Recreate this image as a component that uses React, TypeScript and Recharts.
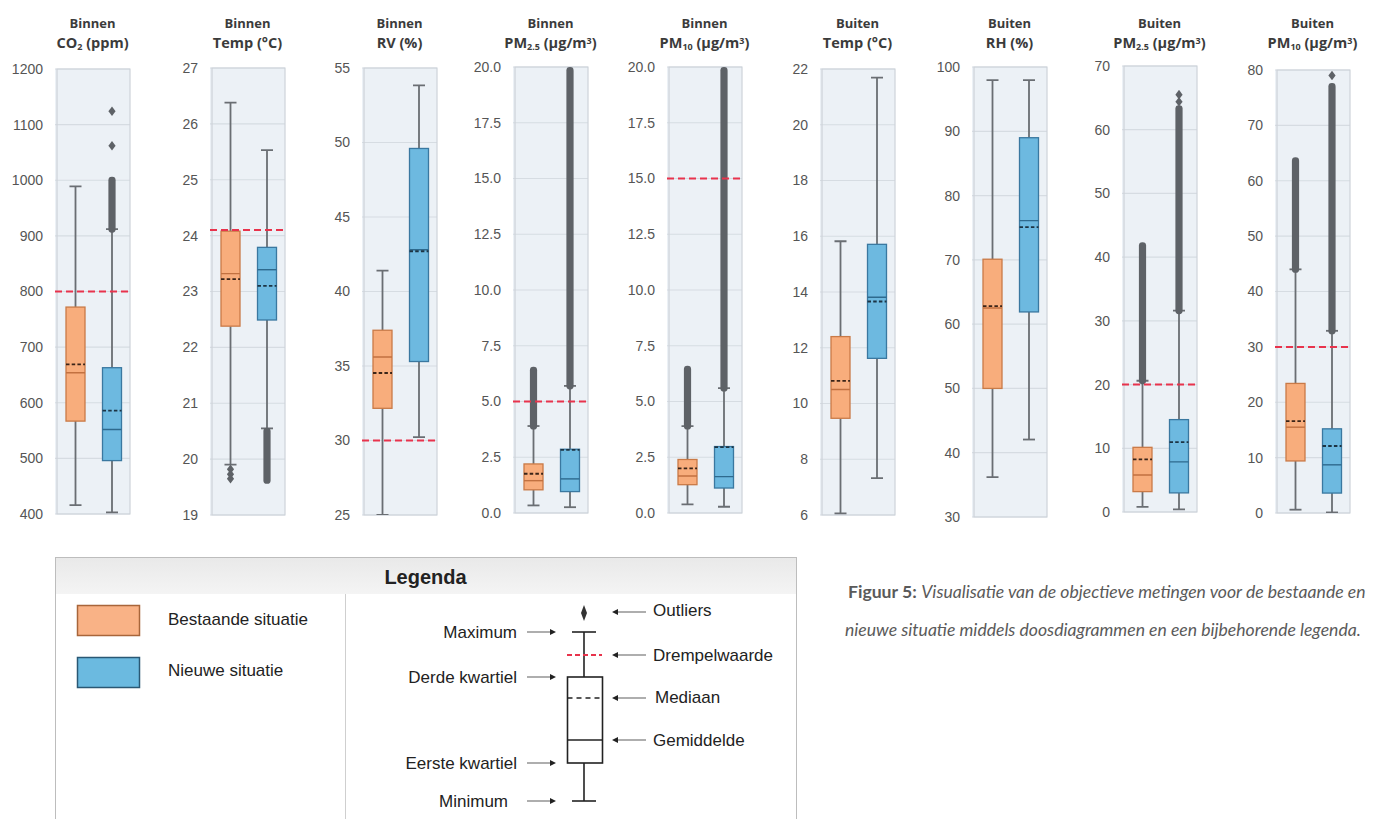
import React from 'react';
import { ComposedChart, Bar, XAxis, YAxis, CartesianGrid, ReferenceLine, ReferenceArea } from 'recharts';

// ---------- DATA ----------
const situaties = ['Bestaande situatie', 'Nieuwe situatie'];

type Stat = {
  situatie: string;
  min: number; q1: number; median: number; mean: number; q3: number; max: number;
  bandLo?: number; bandHi?: number; outliers: number[];
};

const co2Stats: Stat[] = [
  { situatie: situaties[0], min: 416, q1: 567, median: 669, mean: 654, q3: 772, max: 989, outliers: [] },
  { situatie: situaties[1], min: 403, q1: 496, median: 586, mean: 552, q3: 663, max: 912, bandLo: 912, bandHi: 1000, outliers: [1062, 1124] },
];
const tempInStats: Stat[] = [
  { situatie: situaties[0], min: 19.9, q1: 22.38, median: 23.22, mean: 23.32, q3: 24.08, max: 26.38, outliers: [19.82, 19.73, 19.65] },
  { situatie: situaties[1], min: 20.55, q1: 22.49, median: 23.1, mean: 23.39, q3: 23.79, max: 25.53, bandLo: 19.62, bandHi: 20.5, outliers: [] },
];
const rvStats: Stat[] = [
  { situatie: situaties[0], min: 25.0, q1: 32.16, median: 34.53, mean: 35.6, q3: 37.4, max: 41.4, outliers: [] },
  { situatie: situaties[1], min: 30.23, q1: 35.3, median: 42.7, mean: 42.8, q3: 49.6, max: 53.84, outliers: [] },
];
const pm25InStats: Stat[] = [
  { situatie: situaties[0], min: 0.34, q1: 1.04, median: 1.76, mean: 1.45, q3: 2.2, max: 3.9, bandLo: 3.9, bandHi: 6.4, outliers: [] },
  { situatie: situaties[1], min: 0.26, q1: 0.96, median: 2.83, mean: 1.53, q3: 2.86, max: 5.7, bandLo: 5.7, bandHi: 20.5, outliers: [] },
];
const pm10InStats: Stat[] = [
  { situatie: situaties[0], min: 0.39, q1: 1.27, median: 2.0, mean: 1.66, q3: 2.4, max: 3.9, bandLo: 3.9, bandHi: 6.45, outliers: [] },
  { situatie: situaties[1], min: 0.28, q1: 1.12, median: 2.95, mean: 1.63, q3: 2.98, max: 5.6, bandLo: 5.6, bandHi: 20.5, outliers: [] },
];
const tempOutStats: Stat[] = [
  { situatie: situaties[0], min: 6.06, q1: 9.47, median: 10.81, mean: 10.5, q3: 12.4, max: 15.82, outliers: [] },
  { situatie: situaties[1], min: 7.32, q1: 11.62, median: 13.66, mean: 13.81, q3: 15.71, max: 21.69, outliers: [] },
];
const rhStats: Stat[] = [
  { situatie: situaties[0], min: 36.2, q1: 50.0, median: 62.8, mean: 62.5, q3: 70.1, max: 97.95, outliers: [] },
  { situatie: situaties[1], min: 42.05, q1: 61.9, median: 75.1, mean: 76.1, q3: 89.0, max: 97.95, outliers: [] },
];
const pm25OutStats: Stat[] = [
  { situatie: situaties[0], min: 0.8, q1: 3.2, median: 8.25, mean: 5.8, q3: 10.15, max: 20.6, bandLo: 20.6, bandHi: 41.8, outliers: [] },
  { situatie: situaties[1], min: 0.4, q1: 3.0, median: 10.96, mean: 7.86, q3: 14.5, max: 31.6, bandLo: 31.6, bandHi: 63.3, outliers: [64.4, 65.5] },
];
const pm10OutStats: Stat[] = [
  { situatie: situaties[0], min: 0.6, q1: 9.4, median: 16.6, mean: 15.5, q3: 23.4, max: 44.0, bandLo: 44.0, bandHi: 63.6, outliers: [] },
  { situatie: situaties[1], min: 0.1, q1: 3.6, median: 12.1, mean: 8.7, q3: 15.2, max: 32.9, bandLo: 32.9, bandHi: 77.0, outliers: [79.0] },
];

const co2Ticks = [400, 500, 600, 700, 800, 900, 1000, 1100, 1200];
const tempInTicks = [19, 20, 21, 22, 23, 24, 25, 26, 27];
const rvTicks = [25, 30, 35, 40, 45, 50, 55];
const pmInTicks = [0, 2.5, 5, 7.5, 10, 12.5, 15, 17.5, 20];
const tempOutTicks = [6, 8, 10, 12, 14, 16, 18, 20, 22];
const rhTicks = [30, 40, 50, 60, 70, 80, 90, 100];
const pm25OutTicks = [0, 10, 20, 30, 40, 50, 60, 70];
const pm10OutTicks = [0, 10, 20, 30, 40, 50, 60, 70, 80];

const thresholds: (number | null)[] = [800, 24.1, 30, 5, 15, null, null, 20, 30];
const titleTop = ['Binnen', 'Binnen', 'Binnen', 'Binnen', 'Binnen', 'Buiten', 'Buiten', 'Buiten', 'Buiten'];

const sub = (t: string) => <sub style={{ fontSize: '0.62em', lineHeight: 0, verticalAlign: '-0.25em' }}>{t}</sub>;
const sup = (t: string) => <sup style={{ fontSize: '0.62em', lineHeight: 0, verticalAlign: '0.5em' }}>{t}</sup>;
const titleMain: React.ReactNode[] = [
  <>CO{sub('2')} (ppm)</>,
  <>Temp (°C)</>,
  <>RV (%)</>,
  <>PM{sub('2.5')} (µg/m{sup('3')})</>,
  <>PM{sub('10')} (µg/m{sup('3')})</>,
  <>Temp (°C)</>,
  <>RH (%)</>,
  <>PM{sub('2.5')} (µg/m{sup('3')})</>,
  <>PM{sub('10')} (µg/m{sup('3')})</>,
];

const panelData: Stat[][] = [co2Stats, tempInStats, rvStats, pm25InStats, pm10InStats, tempOutStats, rhStats, pm25OutStats, pm10OutStats];
const panelTicks: number[][] = [co2Ticks, tempInTicks, rvTicks, pmInTicks, pmInTicks, tempOutTicks, rhTicks, pm25OutTicks, pm10OutTicks];
const oneDecimal = [false, false, false, true, true, false, false, false, false];

// ---------- LAYOUT / STYLE ----------
const panelLeft = [55, 210, 362, 513, 667, 820, 972, 1122, 1275];
const panelTop = [69, 68, 68, 67, 67, 69, 67, 66, 70];
const panelBottom = [514, 515, 515, 513, 513, 515, 517, 512, 513];
const PANEL_W = 75;
const AXIS_W = 45;
const CHART_H = 540;

const boxFill = ['#F8AD7C', '#6DB9E0'];
const boxEdge = ['#C97A47', '#3A78A0'];
const meanColor = ['#C27140', '#2E6A8E'];
const medianColor = ['#3A2418', '#1C3444'];
const whiskerColor = '#6A6E73';
const outlierColor = '#5E6267';

function makeBoxShape(axisMax: number) {
  return (props: any) => {
    const { x, y, width, height, payload, index } = props;
    if (!payload || x == null || y == null) return <g />;
    const lo = payload.min;
    const hi = payload.max;
    const yHi = y;
    const yLo = y + height;
    const toY = (v: number) => yLo + ((v - lo) * (yHi - yLo)) / (hi - lo);
    const topClip = toY(axisMax);
    const cx = x + width / 2;
    const i = index ?? 0;
    const capHalf = 6;
    const yQ1 = toY(payload.q1);
    const yQ3 = toY(payload.q3);
    const els: React.ReactNode[] = [];
    els.push(<line key="wl" x1={cx} x2={cx} y1={yLo} y2={yQ1} stroke={whiskerColor} strokeWidth={1.8} />);
    els.push(<line key="wh" x1={cx} x2={cx} y1={yHi} y2={yQ3} stroke={whiskerColor} strokeWidth={1.8} />);
    els.push(<line key="cl" x1={cx - capHalf} x2={cx + capHalf} y1={yLo} y2={yLo} stroke={whiskerColor} strokeWidth={1.8} />);
    els.push(<line key="ch" x1={cx - capHalf} x2={cx + capHalf} y1={yHi} y2={yHi} stroke={whiskerColor} strokeWidth={1.8} />);
    if (payload.bandLo != null && payload.bandHi != null) {
      const bt = Math.max(toY(payload.bandHi) - 3.5, topClip);
      const bb = toY(payload.bandLo) + 3.5;
      els.push(<rect key="band" x={cx - 3.6} width={7.2} y={bt} height={bb - bt} rx={3.4} fill={outlierColor} />);
    }
    (payload.outliers || []).forEach((v: number, k: number) => {
      const oy = toY(v);
      els.push(
        <path key={'o' + k} d={`M${cx},${oy - 4.8} L${cx + 3.6},${oy} L${cx},${oy + 4.8} L${cx - 3.6},${oy} Z`} fill={outlierColor} />
      );
    });
    els.push(<rect key="box" x={x} y={yQ3} width={width} height={yQ1 - yQ3} fill={boxFill[i]} stroke={boxEdge[i]} strokeWidth={1.3} />);
    els.push(<line key="mean" x1={x} x2={x + width} y1={toY(payload.mean)} y2={toY(payload.mean)} stroke={meanColor[i]} strokeWidth={1.4} />);
    els.push(<line key="med" x1={x} x2={x + width} y1={toY(payload.median)} y2={toY(payload.median)} stroke={medianColor[i]} strokeWidth={1.8} strokeDasharray="3.5 2.2" />);
    return <g>{els}</g>;
  };
}

function Panel({ idx }: { idx: number }) {
  const ticks = panelTicks[idx];
  const lo = ticks[0];
  const hi = ticks[ticks.length - 1];
  const thr = thresholds[idx];
  const left = panelLeft[idx];
  const fmt = (v: number) => (oneDecimal[idx] ? v.toFixed(1) : String(v));
  return (
    <>
      <div style={{ position: 'absolute', left: left + PANEL_W / 2 - 70, width: 140, top: 14, textAlign: 'center', fontFamily: '"Open Sans", sans-serif', fontWeight: 700, color: '#3b3b3b', lineHeight: '19px' }}>
        <div style={{ fontSize: 13 }}>{titleTop[idx]}</div>
        <div style={{ fontSize: 14.5 }}>{titleMain[idx]}</div>
      </div>
      <div style={{ position: 'absolute', left: left - AXIS_W, top: 0 }}>
        <ComposedChart
          width={AXIS_W + PANEL_W + 4}
          height={CHART_H}
          data={panelData[idx]}
          margin={{ top: panelTop[idx], right: 4, bottom: CHART_H - panelBottom[idx], left: 0 }}
          barSize={19}
        >
          <CartesianGrid vertical={false} stroke="#D6DCE2" strokeWidth={1.2} fill="#ECF1F6" />
          <XAxis dataKey="situatie" hide padding={{ left: 2, right: 0 }} />
          <YAxis
            type="number"
            domain={[lo, hi]}
            ticks={ticks}
            interval={0}
            allowDataOverflow
            width={AXIS_W}
            axisLine={false}
            tickLine={false}
            tickSize={6}
            tickMargin={6}
            tickFormatter={fmt}
            tick={{ fill: '#555', fontSize: 14, fontFamily: '"Liberation Sans", Arial, sans-serif' }}
          />
          <ReferenceArea y1={lo} y2={hi} fill="none" stroke="#CDD3D9" strokeWidth={1.2} ifOverflow="visible" />
          <Bar dataKey={(d: Stat) => [d.min, d.max]} shape={makeBoxShape(hi)} isAnimationActive={false} />
          {thr != null && (
            <ReferenceLine y={thr} stroke="#E8334C" strokeWidth={2} strokeDasharray="7 4" />
          )}
        </ComposedChart>
      </div>
    </>
  );
}

function Arrow({ x1, x2, y }: { x1: number; x2: number; y: number }) {
  const dir = x2 > x1 ? 1 : -1;
  return (
    <g>
      <line x1={x1} x2={x2 - dir * 4} y1={y} y2={y} stroke="#777" strokeWidth={1.2} />
      <path d={`M${x2},${y} L${x2 - dir * 6},${y - 3} L${x2 - dir * 6},${y + 3} Z`} fill="#222" />
    </g>
  );
}

function Legend() {
  const f = '"Liberation Sans", Arial, sans-serif';
  const cx = 584;
  return (
    <svg style={{ position: 'absolute', left: 0, top: 0 }} width={1378} height={819}>
      <defs>
        <linearGradient id="hdr" x1="0" y1="0" x2="0" y2="1">
          <stop offset="0" stopColor="#E9E9E9" />
          <stop offset="1" stopColor="#F4F4F4" />
        </linearGradient>
      </defs>
      <rect x={55.5} y={557.5} width={741} height={280} fill="#fff" stroke="#BDBDBD" />
      <rect x={56} y={558} width={740} height={36} fill="url(#hdr)" />
      <text x={425.5} y={584} textAnchor="middle" fontFamily={f} fontSize={20} fontWeight={700} fill="#222">Legenda</text>
      <line x1={345.5} x2={345.5} y1={594} y2={819} stroke="#CFCFCF" />
      <rect x={77.5} y={605.5} width={62} height={30} fill="#F9B286" stroke="#A8653A" strokeWidth={1.5} />
      <rect x={77.5} y={657.5} width={62} height={30} fill="#6BBAE0" stroke="#2A5874" strokeWidth={1.5} />
      <text x={168} y={625} fontFamily={f} fontSize={17} fill="#222">Bestaande situatie</text>
      <text x={168} y={676} fontFamily={f} fontSize={17} fill="#222">Nieuwe situatie</text>
      <path d={`M${cx},605 L${cx + 3},613 L${cx},621 L${cx - 3},613 Z`} fill="#333" />
      <line x1={cx} x2={cx} y1={632} y2={677} stroke="#222" strokeWidth={1.6} />
      <line x1={cx} x2={cx} y1={763} y2={801} stroke="#222" strokeWidth={1.6} />
      <line x1={cx - 12} x2={cx + 12} y1={632} y2={632} stroke="#222" strokeWidth={1.6} />
      <line x1={cx - 12} x2={cx + 12} y1={801} y2={801} stroke="#222" strokeWidth={1.6} />
      <line x1={cx - 17} x2={cx + 18} y1={655} y2={655} stroke="#E8334C" strokeWidth={1.8} strokeDasharray="5 3" />
      <rect x={cx - 16.5} y={677} width={35} height={86} fill="#fff" stroke="#222" strokeWidth={1.6} />
      <line x1={cx - 16.5} x2={cx + 18.5} y1={698} y2={698} stroke="#222" strokeWidth={1.6} strokeDasharray="5 4" />
      <line x1={cx - 16.5} x2={cx + 18.5} y1={740} y2={740} stroke="#222" strokeWidth={1.6} />
      <Arrow x1={646} x2={612} y={612} />
      <Arrow x1={646} x2={612} y={655} />
      <Arrow x1={646} x2={612} y={698} />
      <Arrow x1={646} x2={612} y={740} />
      <text x={653} y={616} fontFamily={f} fontSize={17} fill="#222">Outliers</text>
      <text x={653} y={661} fontFamily={f} fontSize={17} fill="#222">Drempelwaarde</text>
      <text x={655} y={703} fontFamily={f} fontSize={17} fill="#222">Mediaan</text>
      <text x={653} y={746} fontFamily={f} fontSize={17} fill="#222">Gemiddelde</text>
      <Arrow x1={527} x2={556} y={632} />
      <Arrow x1={527} x2={556} y={677} />
      <Arrow x1={527} x2={556} y={763} />
      <Arrow x1={527} x2={556} y={801} />
      <text x={517} y={638} textAnchor="end" fontFamily={f} fontSize={17} fill="#222">Maximum</text>
      <text x={517} y={683} textAnchor="end" fontFamily={f} fontSize={17} fill="#222">Derde kwartiel</text>
      <text x={517} y={769} textAnchor="end" fontFamily={f} fontSize={17} fill="#222">Eerste kwartiel</text>
      <text x={508} y={807} textAnchor="end" fontFamily={f} fontSize={17} fill="#222">Minimum</text>
    </svg>
  );
}

export default function App() {
  return (
    <div style={{ position: 'absolute', left: 0, top: 0, width: 1378, height: 819, background: '#fff', overflow: 'hidden' }}>
      {panelData.map((_, i) => (
        <Panel key={i} idx={i} />
      ))}
      <Legend />
      <div style={{ position: 'absolute', left: 848, top: 573, width: 530, fontFamily: 'Lato, sans-serif', fontSize: 17.6, color: '#5a5a5a', lineHeight: '38px', whiteSpace: 'nowrap' }}>
        <div>
          <span style={{ fontWeight: 700 }}>Figuur 5:</span> <i>Visualisatie van de objectieve metingen voor de bestaande en</i>
        </div>
        <div style={{ marginLeft: -3 }}>
          <i>nieuwe situatie middels doosdiagrammen en een bijbehorende legenda.</i>
        </div>
      </div>
    </div>
  );
}
